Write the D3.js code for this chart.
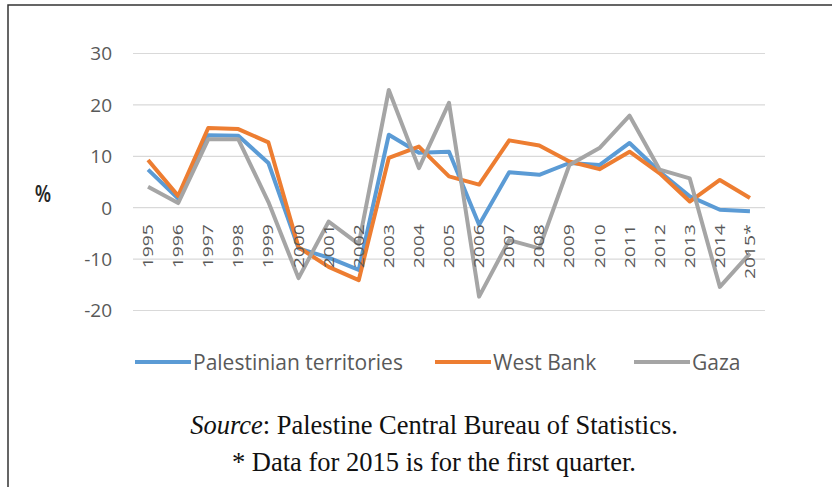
<!DOCTYPE html>
<html>
<head>
<meta charset="utf-8">
<script src="https://cdn.jsdelivr.net/npm/d3@7"></script>
<style>
  body { margin: 0; background: #fff; }
  svg { display: block; }
</style>
</head>
<body>
<div id="chart"></div>
<script>
const years = ["1995","1996","1997","1998","1999","2000","2001","2002","2003","2004",
               "2005","2006","2007","2008","2009","2010","2011","2012","2013","2014","2015*"];
const palestinian = [7.3, 1.7, 14.0, 13.9, 8.6, -8.0, -9.8, -12.2, 14.1, 10.6,
                     10.8, -3.4, 6.8, 6.3, 8.6, 8.2, 12.5, 6.9, 2.1, -0.5, -0.8];
const westBank = [9.2, 2.2, 15.4, 15.2, 12.6, -7.8, -11.6, -14.2, 9.6, 11.8,
                  6.0, 4.4, 13.0, 12.0, 8.9, 7.4, 10.8, 6.6, 1.1, 5.3, 1.8];
const gaza = [4.0, 0.8, 13.2, 13.2, 1.0, -13.8, -2.8, -7.2, 22.8, 7.6,
              20.3, -17.4, -6.4, -8.0, 8.2, 11.5, 17.8, 7.3, 5.6, -15.5, -9.0];
const yTicks = [-20, -10, 0, 10, 20, 30];

const series = [
  {name: "Palestinian territories", values: palestinian, color: "#5B9BD5"},
  {name: "West Bank", values: westBank, color: "#ED7D31"},
  {name: "Gaza", values: gaza, color: "#A5A5A5"}
];

const W = 832, H = 487;
const font = "'Open Sans', sans-serif";
const svg = d3.select("#chart").append("svg")
  .attr("width", W).attr("height", H);

// frame (top and left edges only)
svg.append("path")
   .attr("d", `M8,${H} L8,5 L${W},5`)
   .attr("fill", "none")
   .attr("stroke", "#333")
   .attr("stroke-width", 1.5);

const plot = {left: 133, right: 765, top: 53, bottom: 310};

const x = d3.scaleBand()
            .domain(years)
            .range([plot.left, plot.right]);

const y = d3.scaleLinear()
            .domain([-20, 30])
            .range([plot.bottom, plot.top]);

// gridlines + y labels
svg.append("g")
   .attr("transform", `translate(${plot.left},0)`)
   .call(d3.axisLeft(y).tickValues(yTicks)
           .tickFormat(d => `${d}`)
           .tickSize(-(plot.right - plot.left))
           .tickPadding(21))
   .call(g => g.select(".domain").remove())
   .call(g => g.selectAll(".tick line").attr("stroke", "#D9D9D9").attr("stroke-width", 1.2))
   .call(g => g.selectAll(".tick text")
               .attr("fill", "#595959")
               .attr("dy", "0.36em")
               .style("font-family", font)
               .style("font-size", "19px"));

// lines
const line = d3.line()
               .x((d, i) => x(years[i]) + x.bandwidth() / 2)
               .y(d => y(d));

svg.selectAll(".series")
   .data(series)
   .enter()
   .append("path")
   .attr("class", "series")
   .attr("fill", "none")
   .attr("stroke", d => d.color)
   .attr("stroke-width", 4)
   .attr("stroke-linejoin", "round")
   .attr("d", d => line(d.values));

// category labels next to the zero line, rotated
svg.append("g")
   .attr("transform", `translate(0,${y(0)})`)
   .call(d3.axisBottom(x).tickSize(0).tickPadding(0))
   .call(g => g.select(".domain").remove())
   .call(g => g.selectAll(".tick text")
               .attr("transform", "translate(0,17) rotate(-90) scale(1.38,1)")
               .attr("text-anchor", "end")
               .attr("dy", "0.36em")
               .attr("x", 0).attr("y", 0)
               .attr("fill", "#595959")
               .style("font-family", font)
               .style("font-size", "14px"));

// axis title
svg.append("text")
   .attr("transform", "translate(43,202) scale(1,1.2)")
   .attr("text-anchor", "middle")
   .style("font-family", font)
   .style("font-size", "19px")
   .style("font-weight", "600")
   .attr("fill", "#262626")
   .text("%");

// legend
const legendX = [135, 435, 634];
const legend = svg.selectAll(".legend")
  .data(series)
  .enter()
  .append("g")
  .attr("class", "legend")
  .attr("transform", (d, i) => `translate(${legendX[i]},362)`);

legend.append("line")
      .attr("x1", 0).attr("x2", 56)
      .attr("stroke", d => d.color)
      .attr("stroke-width", 4);

legend.append("text")
      .attr("x", 58).attr("dy", "0.36em")
      .attr("fill", "#595959")
      .style("font-family", font)
      .style("font-size", "21px")
      .text(d => d.name);

// notes
const note1 = svg.append("text")
   .attr("x", 434).attr("y", 434)
   .attr("text-anchor", "middle")
   .style("font-family", "'Liberation Serif', serif")
   .style("font-size", "26.5px")
   .attr("fill", "#111");
note1.append("tspan").style("font-style", "italic").text("Source");
note1.append("tspan").text(": Palestine Central Bureau of Statistics.");

svg.append("text")
   .attr("x", 434).attr("y", 471)
   .attr("text-anchor", "middle")
   .style("font-family", "'Liberation Serif', serif")
   .style("font-size", "26.5px")
   .attr("fill", "#111")
   .text("* Data for 2015 is for the first quarter.");
</script>
</body>
</html>
